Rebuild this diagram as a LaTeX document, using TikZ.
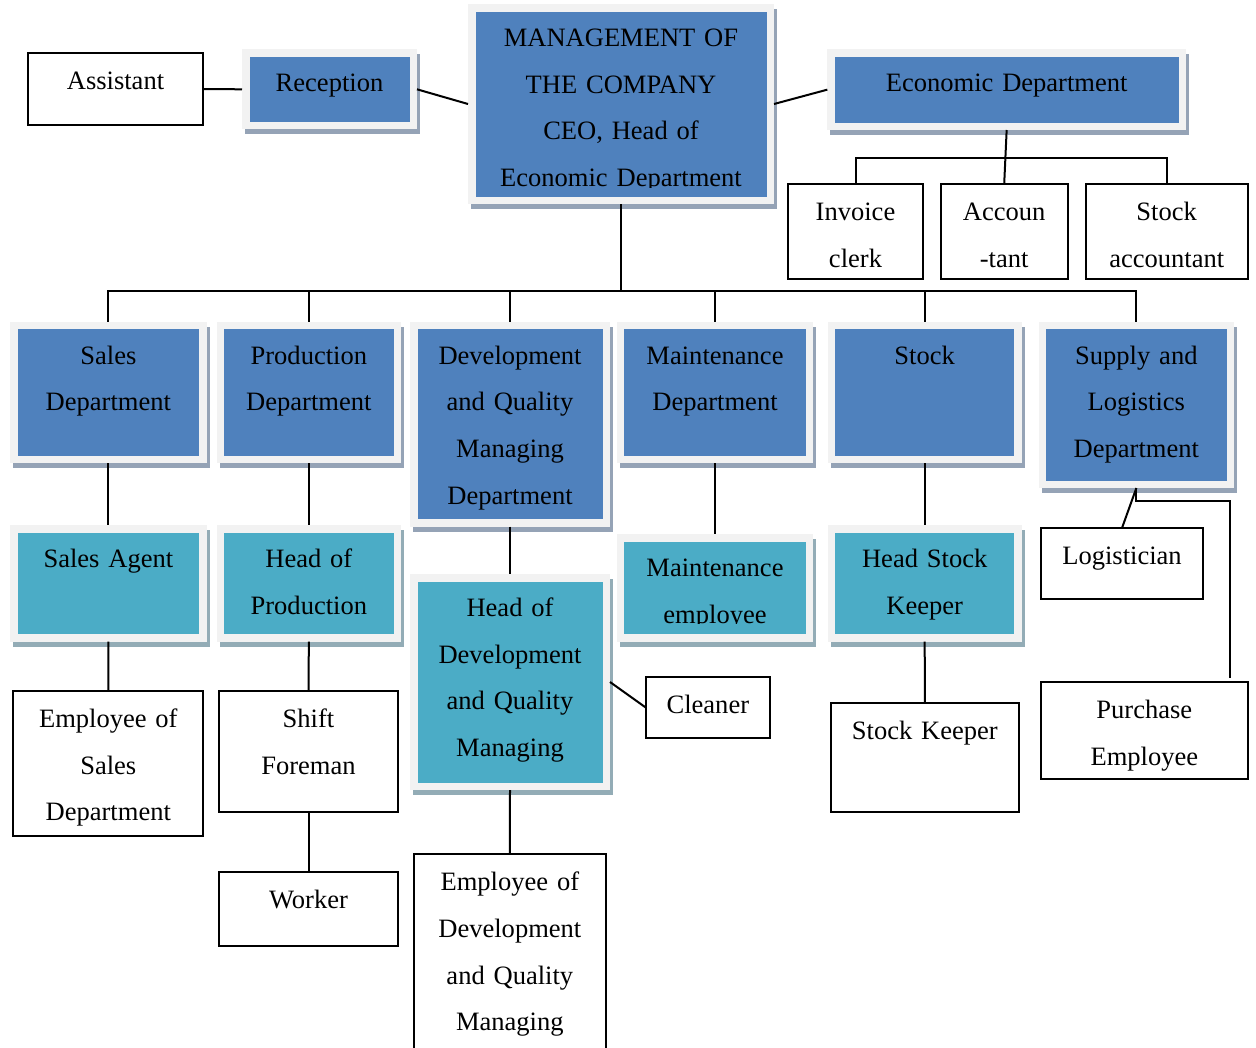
\documentclass[tikz,border=0pt]{standalone}
\usepackage{fontspec}
\setmainfont{Liberation Serif}
\usetikzlibrary{shadows}
\definecolor{blueF}{HTML}{4F81BD}
\definecolor{tealF}{HTML}{4BACC6}
\definecolor{frameC}{HTML}{F2F2F2}
\definecolor{shB}{HTML}{95A3B6}
\definecolor{shT}{HTML}{93ACB6}
\tikzset{
  boxtext/.style={inner sep=0pt, outer sep=0pt, align=center, text=black,
    font=\fontsize{19.9pt}{35pt}\selectfont},
  framebox/.style={rectangle, inner sep=0pt, outer sep=0pt, fill=frameC},
  plainbox/.style={rectangle, inner sep=0pt, outer sep=0pt, draw=black, line width=1.5pt, fill=white},
  link/.style={draw=black, line width=1.5pt},
}
% coloured box: [bottom clip inset]{name}{fill}{shadow}{x}{y}{w}{h}{text}
\newcommand\cbox[9][7.5]{%
  \pgfmathsetmacro\bw{#7*0.75}%
  \pgfmathsetmacro\bh{#8*0.75}%
  \node[framebox, minimum width=\bw pt, minimum height=\bh pt,
    drop shadow={shadow xshift=2.25pt, shadow yshift=-3.75pt, fill=#4, opacity=1}]
    (#2) at ({#5+#7/2},{#6+#8/2}) {};
  \fill[#3] ([shift={(7.5,7.5)}]#2.north west) rectangle ([shift={(-7.5,-7.5)}]#2.south east);
  \begin{scope}
    \clip ([shift={(7.5,7.5)}]#2.north west) rectangle ([shift={(-7.5,-#1)}]#2.south east);
    \node[boxtext, text width=\bw pt, anchor=north] (#2-t) at ([shift={(0,9.8)}]#2.north) {\strut #9};
  \end{scope}}
% plain box: {name}{x1}{y1}{x2}{y2}{text}
\newcommand\pbox[6]{%
  \pgfmathsetmacro\bw{(#4-#2)*0.75}%
  \pgfmathsetmacro\bh{(#5-#3)*0.75}%
  \node[plainbox, minimum width=\bw pt, minimum height=\bh pt]
    (#1) at ({(#2+#4)/2},{(#3+#5)/2}) {};
  \node[boxtext, text width=\bw pt, anchor=north] (#1-t) at ([shift={(0,4.0)}]#1.north) {\strut #6};}
\begin{document}
\begin{tikzpicture}[x=0.75pt, y=-0.75pt]
\useasboundingbox (0,0) rectangle (1256,1047);
% top row
\pbox{assistant}{28}{53}{203}{125}{Assistant}
\cbox{reception}{blueF}{shB}{242}{49.3}{175}{80}{Reception}
\cbox[16.5]{mgmt}{blueF}{shB}{468}{4}{306}{200}{MANAGEMENT OF\\THE COMPANY\\CEO, Head of\\Economic Department}
\cbox{econ}{blueF}{shB}{827.3}{49.3}{358.7}{80.7}{Economic Department}
\pbox{invoice}{788.3}{184}{922.7}{278.7}{Invoice\\clerk}
\pbox{accountant}{940.7}{184}{1067.7}{278.7}{Accoun\\-tant}
\pbox{stockacc}{1085.7}{184}{1247.7}{278.7}{Stock\\accountant}
% departments
\cbox{sales}{blueF}{shB}{10}{321.7}{196.7}{141.6}{Sales\\Department}
\cbox{prod}{blueF}{shB}{216.7}{321.7}{184.3}{141.6}{Production\\Department}
\cbox{dev}{blueF}{shB}{410}{321.7}{200}{205}{Development\\and Quality\\Managing\\Department}
\cbox{maint}{blueF}{shB}{616.7}{321.7}{196.6}{141.6}{Maintenance\\Department}
\cbox{stock}{blueF}{shB}{827.7}{321.7}{194}{141.6}{Stock}
\cbox{supply}{blueF}{shB}{1038.7}{321.7}{195.3}{166.3}{Supply and\\Logistics\\Department}
% heads
\cbox{agent}{tealF}{shT}{10}{525}{196.7}{116.7}{Sales Agent}
\cbox{headprod}{tealF}{shT}{216.7}{525}{184.3}{116.7}{Head of\\Production}
\cbox{headdev}{tealF}{shT}{410}{574}{200}{216}{Head of\\Development\\and Quality\\Managing}
\cbox[18]{maintemp}{tealF}{shT}{616.7}{534}{196.6}{107.7}{Maintenance\\employee}
\cbox{headstock}{tealF}{shT}{827.7}{525}{194}{116.7}{Head Stock\\Keeper}
% employees
\pbox{empsales}{13.3}{690.7}{203.3}{836}{Employee of\\Sales\\Department}
\pbox{shift}{219.3}{690.7}{397.7}{812.3}{Shift\\Foreman}
\pbox{worker}{219.3}{871.7}{397.7}{946}{Worker}
\pbox{empdev}{414}{854}{605.7}{1090}{Employee of\\Development\\and Quality\\Managing}
\pbox{cleaner}{645.7}{677.3}{770}{737.7}{Cleaner}
\pbox{stockkeeper}{830.7}{702.7}{1019}{812.3}{Stock Keeper}
\pbox{logistician}{1041}{528}{1203}{599}{Logistician}
\pbox{purchase}{1041}{682.3}{1247.7}{779}{Purchase\\Employee}
% connectors
\coordinate (busy) at (0,291);
\coordinate (pknee) at (1229.5,501);
\coordinate (pend) at (1229.5,678);
\draw[link] (assistant.east) -- (reception.west);
\draw[link] (reception.east) -- (mgmt.west);
\draw[link] (mgmt.east) -- (econ.west);
\draw[link] (econ.south) -- (accountant.north);
\draw[link] (invoice.north) -- ++(0,-26) -| (stockacc.north);
\draw[link] (mgmt.south) -- (mgmt.south |- busy);
\draw[link] (sales.north) |- (supply.north |- busy) -- (supply.north);
\foreach \n in {prod,dev,maint,stock} \draw[link] (\n.north) -- (\n.north |- busy);
\draw[link] (sales.south) -- (agent.north);
\draw[link] (agent.south) -- (empsales.north);
\draw[link] (prod.south) -- (headprod.north);
\draw[link] (headprod.south) -- (shift.north);
\draw[link] (shift.south) -- (worker.north);
\draw[link] (dev.south) -- (headdev.north);
\draw[link] (headdev.south) -- (empdev.north);
\draw[link] (headdev.east) -- (cleaner.west);
\draw[link] (maint.south) -- (maintemp.north);
\draw[link] (stock.south) -- (headstock.north);
\draw[link] (headstock.south) -- (stockkeeper.north);
\draw[link] (supply.south) -- (logistician.north);
\draw[link] (supply.south) |- (pknee) -- (pend);
\end{tikzpicture}
\end{document}
